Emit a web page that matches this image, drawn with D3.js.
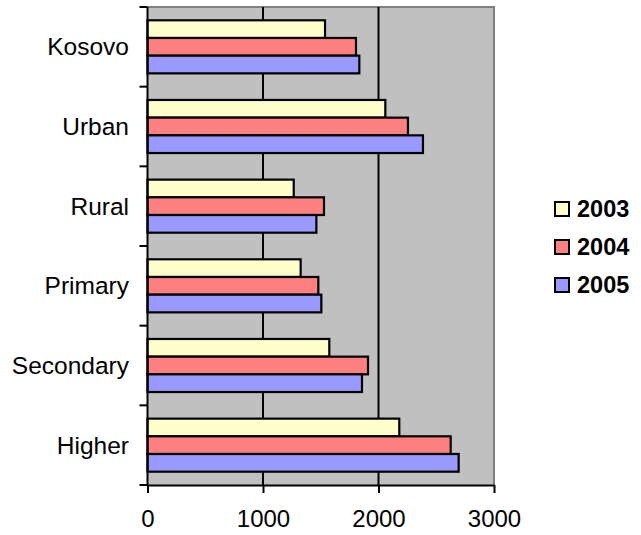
<!DOCTYPE html>
<html><head><meta charset="utf-8">
<script src="https://cdn.jsdelivr.net/npm/d3@7/dist/d3.min.js"></script>
<style>body{margin:0;background:#fff}</style>
</head><body>
<svg id="c" width="641" height="535"></svg>
<script>
const categories = ["Kosovo","Urban","Rural","Primary","Secondary","Higher"];
const seriesNames = ["2003","2004","2005"];
const v2003 = [1537, 2059, 1266, 1326, 1574, 2180];
const v2004 = [1805, 2255, 1528, 1479, 1909, 2625];
const v2005 = [1834, 2385, 1462, 1505, 1857, 2694];
const xTicks = [0, 1000, 2000, 3000];
const colors = ["#FFFFCC", "#FF8080", "#9999FF"];

const series = [v2003, v2004, v2005];
const svg = d3.select("#c");
const font = "'Liberation Sans', Arial, sans-serif";
const L = 147.5, R = 494, T = 7, B = 485;

const x = d3.scaleLinear().domain([0, 3000]).range([L, R]);
const y0 = d3.scaleBand().domain(categories).range([T, B]).padding(0);
const gap = 13.3;
const y1 = d3.scaleBand().domain(seriesNames).range([gap, y0.bandwidth() - gap]).padding(0);

// plot background
svg.append("rect").attr("x", L).attr("y", T).attr("width", R - L).attr("height", B - T)
  .attr("fill", "#C0C0C0");
svg.append("path").attr("d", `M${L},${T}H${R}V${B}`).attr("fill", "none")
  .attr("stroke", "#808080").attr("stroke-width", 2);

// gridlines
svg.append("g").selectAll("line").data(xTicks.filter(t => t > 0 && t < 3000)).join("line")
  .attr("x1", d => x(d)).attr("x2", d => x(d)).attr("y1", T).attr("y2", B)
  .attr("stroke", "#000").attr("stroke-width", 2);

// bars
const g = svg.append("g");
categories.forEach((c, i) => {
  seriesNames.forEach((s, j) => {
    g.append("rect")
      .attr("x", x(0))
      .attr("y", y0(c) + y1(s))
      .attr("width", x(series[j][i]) - x(0))
      .attr("height", y1.bandwidth())
      .attr("fill", colors[j]).attr("stroke", "#000").attr("stroke-width", 2.2);
  });
});

// x axis
const xa = svg.append("g").attr("transform", `translate(0,${B})`)
  .call(d3.axisBottom(x).tickValues(xTicks).tickFormat(d3.format("d"))
    .tickSize(8).tickPadding(17).tickSizeOuter(0));
xa.select(".domain").attr("stroke", "#000").attr("stroke-width", 2);
xa.selectAll(".tick line").attr("stroke", "#000").attr("stroke-width", 2);
xa.selectAll("text").attr("font-family", font).attr("font-size", 24).attr("fill", "#000");

// y axis (ticks at band boundaries)
const ya = svg.append("g");
ya.append("line").attr("x1", L).attr("x2", L).attr("y1", T).attr("y2", B)
  .attr("stroke", "#000").attr("stroke-width", 2);
const bounds = categories.map(c => y0(c)).concat([B]);
ya.selectAll(".tk").data(bounds).join("line").attr("class", "tk")
  .attr("x1", L - 8).attr("x2", L).attr("y1", d => d).attr("y2", d => d)
  .attr("stroke", "#000").attr("stroke-width", 2);
ya.selectAll("text").data(categories).join("text")
  .attr("x", 129).attr("y", d => y0(d) + y0.bandwidth() / 2)
  .attr("dy", "0.35em").attr("text-anchor", "end")
  .attr("font-family", font).attr("font-size", 24.5).attr("fill", "#000")
  .text(d => d);

// legend
const lg = svg.append("g");
seriesNames.forEach((s, j) => {
  const cy = 209 + j * 38;
  lg.append("rect").attr("x", 555).attr("y", cy - 7).attr("width", 14).attr("height", 14)
    .attr("fill", colors[j]).attr("stroke", "#000").attr("stroke-width", 2);
  lg.append("text").attr("x", 577).attr("y", cy).attr("dy", "0.36em")
    .attr("font-family", font).attr("font-size", 23.5).attr("font-weight", "bold")
    .attr("fill", "#000").text(s);
});
</script>
</body></html>
